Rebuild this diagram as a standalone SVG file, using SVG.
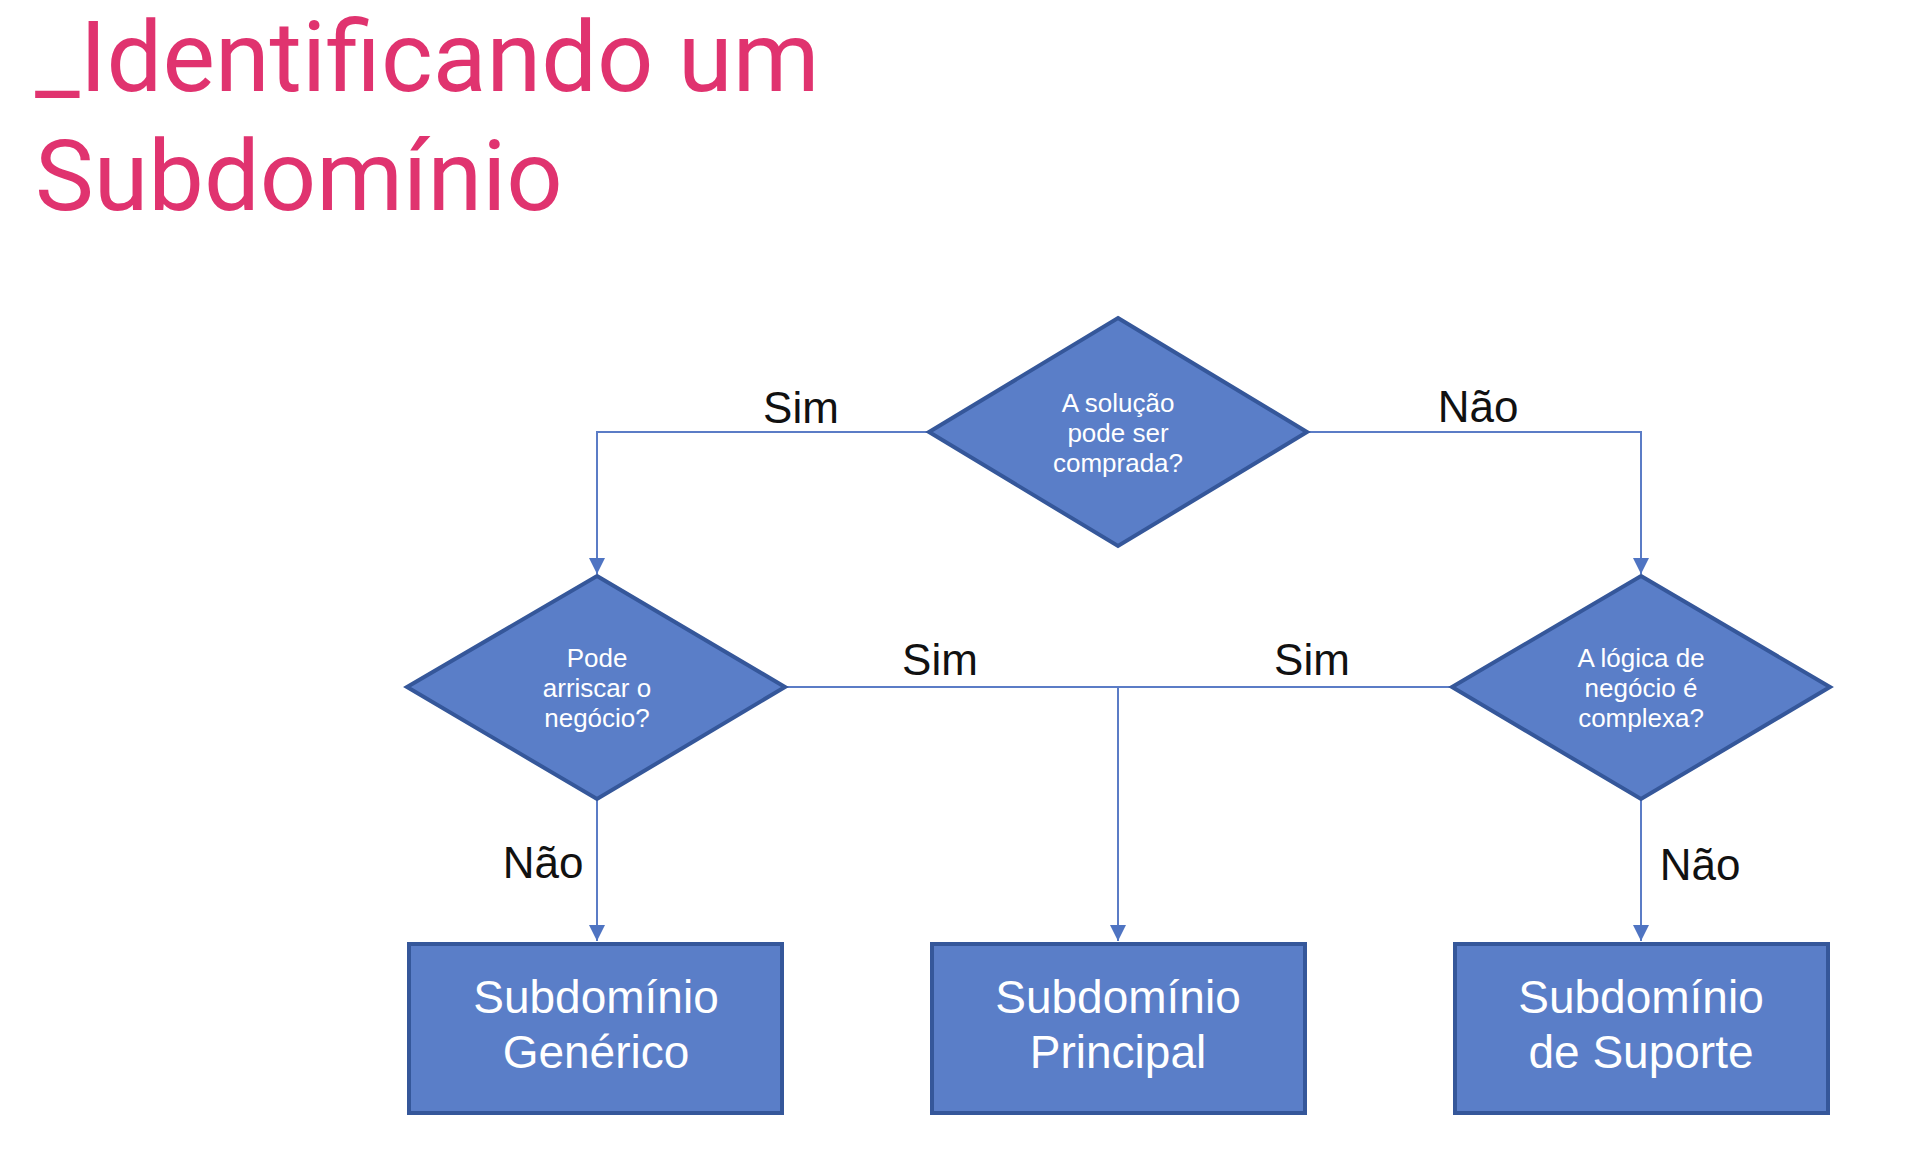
<svg xmlns="http://www.w3.org/2000/svg" width="1922" height="1162" viewBox="0 0 1922 1162">
<style>
.title{font-family:Roboto,"Liberation Sans",sans-serif;font-size:99px;fill:#E0336F;}
.shape{fill:#5A7EC8;stroke:#35579A;stroke-width:4;stroke-linejoin:miter;}
.dtext{font-family:"Liberation Sans",Arial,sans-serif;font-size:26px;fill:#FFFFFF;text-anchor:middle;}
.rtext{font-family:"Liberation Sans",Arial,sans-serif;font-size:46px;fill:#FFFFFF;text-anchor:middle;}
.lbl{font-family:"Liberation Sans",Arial,sans-serif;font-size:44px;fill:#111111;text-anchor:middle;}
.conn{fill:none;stroke:#5B7CC6;stroke-width:2;}
</style>
<defs>
<marker id="arrow" markerUnits="userSpaceOnUse" markerWidth="18" markerHeight="16" refX="16" refY="8" orient="auto">
<path d="M0,0 L16,8 L0,16 Z" fill="#4F74C2"/>
</marker>
</defs>
<rect width="1922" height="1162" fill="#FFFFFF"/>
<g id="title">
<text class="title" x="35" y="91">_Identificando um</text>
<text class="title" x="35" y="210">Subdomínio</text>
</g>
<g id="connectors">
<path class="conn" d="M927,432 H597 V574" marker-end="url(#arrow)"/>
<path class="conn" d="M1309,432 H1641 V574" marker-end="url(#arrow)"/>
<path class="conn" d="M787,687 H1450"/>
<path class="conn" d="M1118,687 V941" marker-end="url(#arrow)"/>
<path class="conn" d="M597,800 V941" marker-end="url(#arrow)"/>
<path class="conn" d="M1641,800 V941" marker-end="url(#arrow)"/>
</g>
<g id="labels">
<text class="lbl" x="801" y="423">Sim</text>
<text class="lbl" x="1478" y="422">Não</text>
<text class="lbl" x="940" y="675">Sim</text>
<text class="lbl" x="1312" y="675">Sim</text>
<text class="lbl" x="543" y="878">Não</text>
<text class="lbl" x="1700" y="880">Não</text>
</g>
<g id="node-solucao">
<polygon class="shape" points="1118,318 1307,432 1118,546 929,432"/>
<text class="dtext" x="1118" y="412">A solução</text>
<text class="dtext" x="1118" y="442">pode ser</text>
<text class="dtext" x="1118" y="472">comprada?</text>
</g>
<g id="node-arriscar">
<polygon class="shape" points="597,576 785,687 597,799 407,687"/>
<text class="dtext" x="597" y="667">Pode</text>
<text class="dtext" x="597" y="697">arriscar o</text>
<text class="dtext" x="597" y="727">negócio?</text>
</g>
<g id="node-logica">
<polygon class="shape" points="1641,576 1830,687 1641,799 1452,687"/>
<text class="dtext" x="1641" y="667">A lógica de</text>
<text class="dtext" x="1641" y="697">negócio é</text>
<text class="dtext" x="1641" y="727">complexa?</text>
</g>
<g id="node-generico">
<rect class="shape" x="409" y="944" width="373" height="169"/>
<text class="rtext" x="596" y="1013">Subdomínio</text>
<text class="rtext" x="596" y="1068">Genérico</text>
</g>
<g id="node-principal">
<rect class="shape" x="932" y="944" width="373" height="169"/>
<text class="rtext" x="1118" y="1013">Subdomínio</text>
<text class="rtext" x="1118" y="1068">Principal</text>
</g>
<g id="node-suporte">
<rect class="shape" x="1455" y="944" width="373" height="169"/>
<text class="rtext" x="1641" y="1013">Subdomínio</text>
<text class="rtext" x="1641" y="1068">de Suporte</text>
</g>
</svg>
